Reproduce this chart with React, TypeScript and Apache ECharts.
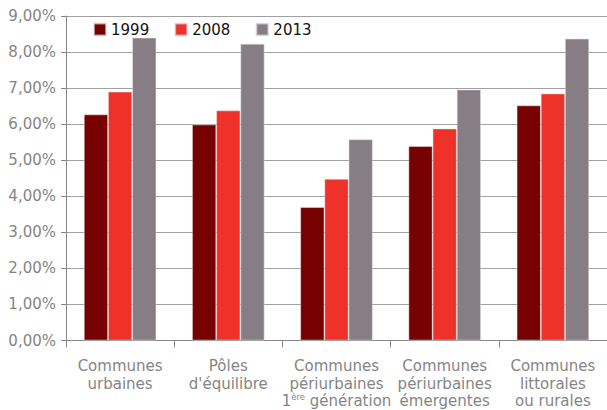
import React, { useEffect, useRef } from "react";
import * as echarts from "echarts";

const categories = [
  "Communes\nurbaines",
  "Pôles\nd'équilibre",
  "Communes\npériurbaines\n{n|1}{sup|ère}{n| génération}",
  "Communes\npériurbaines\némergentes",
  "Communes\nlittorales\nou rurales",
];
const years = ["1999", "2008", "2013"];
const values1999 = [6.27, 5.99, 3.7, 5.39, 6.52];
const values2008 = [6.9, 6.38, 4.48, 5.88, 6.85];
const values2013 = [8.4, 8.23, 5.58, 6.96, 8.37];
const colors = ["#770000", "#EE3129", "#877E85"];

export default function App() {
  const ref = useRef<HTMLDivElement>(null);
  useEffect(() => {
    const chart = echarts.init(ref.current!, null, { renderer: "svg" });
    const font = "'DejaVu Sans', sans-serif";
    const series = [values1999, values2008, values2013].map((d, i) => ({
      name: years[i],
      type: "bar",
      data: d,
      barGap: "0%",
      barCategoryGap: "33%",
      itemStyle: { color: colors[i], borderColor: "rgba(230,230,230,0.6)", borderWidth: 0.8 },
    }));
    chart.setOption({
      animation: false,
      textStyle: { fontFamily: font },
      legend: {
        left: 93,
        top: 22,
        padding: 0,
        itemWidth: 12,
        itemHeight: 12,
        itemGap: 25,
        icon: "rect",
        data: years,
        textStyle: { fontSize: 15, color: "#111", fontFamily: font },
      },
      grid: { left: 66, right: 0, top: 16, bottom: 68, containLabel: false },
      xAxis: {
        type: "category",
        data: categories,
        axisLine: { lineStyle: { color: "#888", width: 1 } },
        axisTick: { show: true, length: 7, lineStyle: { color: "#888" } },
        axisLabel: {
          color: "#858585",
          fontSize: 15,
          lineHeight: 17.5,
          margin: 17,
          interval: 0,
          fontFamily: font,
          rich: {
            n: { fontSize: 15, color: "#858585", fontFamily: font, lineHeight: 17.5 },
            sup: { fontSize: 8.5, color: "#858585", verticalAlign: "top", fontFamily: font, padding: [0, 0, 6, 0] },
          },
        },
      },
      yAxis: {
        type: "value",
        min: 0,
        max: 9,
        interval: 1,
        axisLine: { show: true, lineStyle: { color: "#888", width: 1 } },
        axisTick: { show: true, length: 5, lineStyle: { color: "#888" } },
        splitLine: { lineStyle: { color: "#a0a0a0", width: 1 } },
        axisLabel: {
          color: "#858585",
          fontSize: 15,
          margin: 10,
          fontFamily: font,
          formatter: (v: number) => v.toFixed(2).replace(".", ",") + "%",
        },
      },
      series,
    });
    return () => chart.dispose();
  }, []);
  return (
    <div
      ref={ref}
      style={{ position: "fixed", left: 0, top: 0, width: 607, height: 410, background: "#fff" }}
    />
  );
}
